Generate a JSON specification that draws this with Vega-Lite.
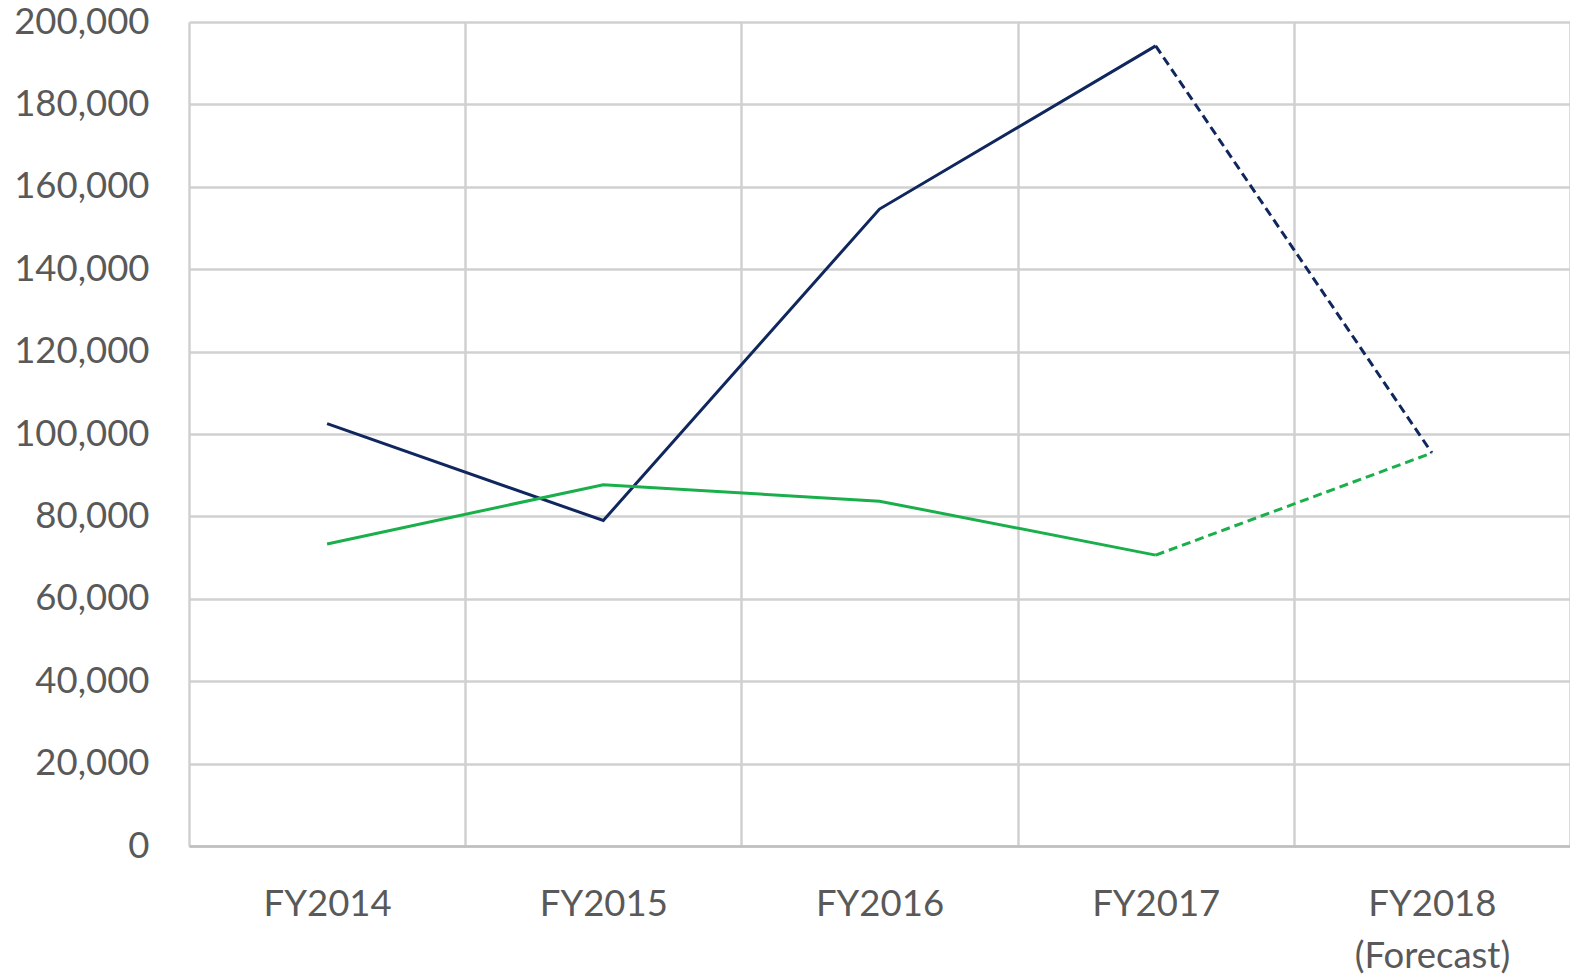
{
  "$schema": "https://vega.github.io/schema/vega-lite/v6.json",
  "autosize": {"type": "none"},
  "width": 1381,
  "height": 824,
  "padding": {"left": 189, "top": 22, "right": 0, "bottom": 130},
  "background": "white",
  "config": {
    "view": {"stroke": null},
    "font": "Lato",
    "axis": {"labelFont": "Lato", "labelFontSize": 36.5, "labelColor": "#595959", "ticks": false, "tickSize": 0, "domain": false, "title": null, "gridColor": "#d0d0d0", "gridWidth": 2.5}
  },
  "data": {
    "values": [
      {"year": "FY2014", "series": "A", "value": 102500},
      {"year": "FY2015", "series": "A", "value": 79000},
      {"year": "FY2016", "series": "A", "value": 154600},
      {"year": "FY2017", "series": "A", "value": 194200},
      {"year": "FY2018", "series": "A", "value": 95400},
      {"year": "FY2014", "series": "B", "value": 73300},
      {"year": "FY2015", "series": "B", "value": 87700},
      {"year": "FY2016", "series": "B", "value": 83700},
      {"year": "FY2017", "series": "B", "value": 70600},
      {"year": "FY2018", "series": "B", "value": 95400}
    ]
  },
  "encoding": {
    "x": {
      "field": "year", "type": "nominal", "sort": null,
      "scale": {"paddingInner": 0, "paddingOuter": 0},
      "axis": {
        "grid": true, "tickBand": "extent", "labelAngle": 0, "labelPadding": 40, "labelBaseline": "top", "labelLineHeight": 52,
        "domain": true, "domainColor": "#bfbfbf", "domainWidth": 2.5,
        "labelExpr": "datum.value == 'FY2018' ? ['FY2018', '(Forecast)'] : datum.value"
      }
    },
    "y": {
      "field": "value", "type": "quantitative",
      "scale": {"domain": [0, 200000], "nice": false},
      "axis": {"values": [0, 20000, 40000, 60000, 80000, 100000, 120000, 140000, 160000, 180000, 200000], "format": ",d", "labelPadding": 40, "grid": true}
    },
    "color": {
      "field": "series", "type": "nominal",
      "scale": {"domain": ["A", "B"], "range": ["#10275e", "#1aaf4b"]},
      "legend": null
    }
  },
  "layer": [
    {
      "transform": [{"filter": "datum.year != 'FY2018'"}],
      "mark": {"type": "line", "strokeWidth": 3}
    },
    {
      "transform": [{"filter": "datum.year == 'FY2017' || datum.year == 'FY2018'"}],
      "mark": {"type": "line", "strokeWidth": 3, "strokeDash": [9, 5]}
    }
  ]
}
